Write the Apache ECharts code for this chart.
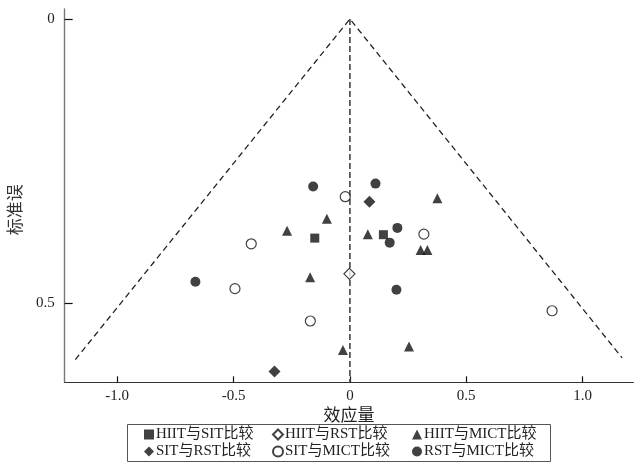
<!DOCTYPE html>
<html>
<head>
<meta charset="utf-8">
<script src="https://cdn.jsdelivr.net/npm/echarts@6/dist/echarts.min.js"></script>
<style>
  html, body { margin: 0; padding: 0; background: #fff; }
  #main { width: 640px; height: 462px; }
</style>
</head>
<body>
<div id="main"></div>
<script>
// 各比较的效应量 [x, 标准误]
var hiitSit = [[-0.151, 0.386], [0.144, 0.380]];
var hiitRst = [[-0.002, 0.449]];
var hiitMict = [
    [0.376, 0.316], [-0.099, 0.352], [-0.270, 0.373], [0.077, 0.379],
    [0.304, 0.407], [0.333, 0.407], [-0.171, 0.455], [-0.030, 0.583],
    [0.254, 0.577]
];
var sitRst = [[0.084, 0.322], [-0.324, 0.621]];
var sitMict = [
    [-0.020, 0.313], [0.318, 0.379], [-0.424, 0.396], [-0.494, 0.475],
    [-0.170, 0.532], [0.869, 0.514]
];
var rstMict = [
    [-0.158, 0.295], [0.110, 0.290], [0.204, 0.368], [0.171, 0.394],
    [-0.664, 0.463], [0.200, 0.477]
];

// 漏斗线
var funnelLine = [[-1.18, 0.600], [0, 0], [1.17, 0.597]];
var centerLine = [[0, 0], [0, 0.64]];

// 刻度
var xTicks = [-1, -0.5, 0, 0.5, 1];
var xTickLabels = ['-1.0', '-0.5', '0', '0.5', '1.0'];
var yTicks = [0, 0.5];
var yTickLabels = ['0', '0.5'];

var seriesNames = ['HIIT与SIT比较', 'HIIT与RST比较', 'HIIT与MICT比较',
    'SIT与RST比较', 'SIT与MICT比较', 'RST与MICT比较'];

var fontLatin = '"Liberation Serif", "Noto Sans CJK SC", serif';
var black = '#111';

function tickText(ticks, labels) {
    return function (v) {
        for (var i = 0; i < ticks.length; i++) {
            if (Math.abs(ticks[i] - v) < 1e-6) return labels[i];
        }
        return '';
    };
}

function scatter(name, data, symbol, size, hollow) {
    return {
        name: name,
        type: 'scatter',
        data: data,
        symbol: symbol,
        symbolSize: size,
        z: 5,
        itemStyle: hollow
            ? { color: '#fff', borderColor: black, borderWidth: 1.2 }
            : { color: black }
    };
}

var chart = echarts.init(document.getElementById('main'));

var legendBase = {
    orient: 'vertical',
    top: 427,
    itemWidth: 10,
    itemHeight: 10,
    itemGap: 2,
    padding: 0,
    textStyle: { fontFamily: fontLatin, fontSize: 15, color: '#222', padding: [0, 0, 0, -3] }
};

chart.setOption({
    animation: false,
    grid: { left: 62.7, right: 6.7, top: 9, bottom: 79.7, containLabel: false },
    xAxis: {
        type: 'value',
        min: -1.226,
        max: 1.218,
        name: '效应量',
        nameLocation: 'middle',
        nameGap: 18,
        nameTextStyle: { fontFamily: fontLatin, fontSize: 17, color: '#222' },
        splitLine: { show: false },
        axisLine: { show: true, onZero: false, lineStyle: { color: '#333', width: 1.2 } },
        axisTick: { show: true, inside: true, length: 6, customValues: xTicks, lineStyle: { color: '#111', width: 1.2 } },
        axisLabel: {
            customValues: xTicks,
            formatter: tickText(xTicks, xTickLabels),
            fontFamily: fontLatin,
            fontSize: 15,
            color: '#222',
            margin: 6
        }
    },
    yAxis: {
        type: 'value',
        inverse: true,
        min: -0.0176,
        max: 0.64,
        name: '标准误',
        nameLocation: 'middle',
        nameGap: 34,
        nameTextStyle: { fontFamily: fontLatin, fontSize: 17, color: '#333', padding: [0, 28, 0, 0] },
        splitLine: { show: false },
        axisLine: { show: true, onZero: false, lineStyle: { color: '#777', width: 1.4 } },
        axisTick: { show: true, inside: true, length: 8, customValues: yTicks, lineStyle: { color: '#111', width: 1.2 } },
        axisLabel: {
            customValues: yTicks,
            formatter: tickText(yTicks, yTickLabels),
            fontFamily: fontLatin,
            fontSize: 15,
            color: '#222',
            margin: 10
        }
    },
    legend: [
        Object.assign({}, legendBase, { left: 144, data: [seriesNames[0], seriesNames[3]] }),
        Object.assign({}, legendBase, { left: 272, data: [seriesNames[1], seriesNames[4]] }),
        Object.assign({}, legendBase, { left: 412, data: [seriesNames[2], seriesNames[5]] })
    ],
    graphic: [{
        type: 'rect',
        shape: { x: 127.5, y: 424.5, width: 423, height: 37 },
        style: { fill: 'none', stroke: '#555', lineWidth: 1 }
    }],
    series: [
        {
            type: 'line',
            data: funnelLine,
            symbol: 'none',
            silent: true,
            z: 1,
            lineStyle: { color: '#222', width: 1.3, type: [6, 4] }
        },
        {
            type: 'line',
            data: centerLine,
            symbol: 'none',
            silent: true,
            z: 1,
            lineStyle: { color: '#444', width: 1.6, type: [6, 3] }
        },
        scatter(seriesNames[0], hiitSit, 'rect', 9, false),
        scatter(seriesNames[1], hiitRst, 'diamond', 11, true),
        scatter(seriesNames[2], hiitMict, 'triangle', 10, false),
        scatter(seriesNames[3], sitRst, 'diamond', 12, false),
        scatter(seriesNames[4], sitMict, 'circle', 10, true),
        scatter(seriesNames[5], rstMict, 'circle', 10, false)
    ]
});
</script>
</body>
</html>
